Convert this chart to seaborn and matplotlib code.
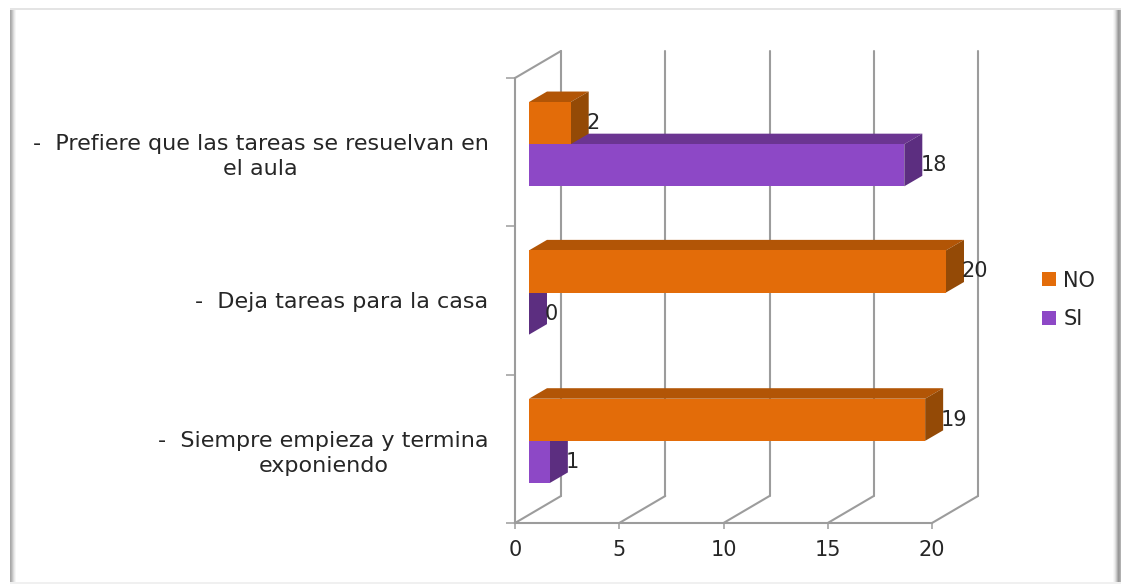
"""Horizontal pseudo-3D bars: NO / SI answers per statement."""

import matplotlib.pyplot as plt
import pandas as pd
import seaborn as sns
from matplotlib.patches import ConnectionPatch, Polygon, Rectangle
from matplotlib.transforms import IdentityTransform

categories = [
    "-  Prefiere que las tareas se resuelvan en\nel aula",
    "-  Deja tareas para la casa",
    "-  Siempre empieza y termina\nexponiendo",
]
no_values = [2, 20, 19]
si_values = [18, 0, 1]
series_names = ["NO", "SI"]
x_ticks = [0, 5, 10, 15, 20]

W, H = 1121, 584
FRONT = {"NO": "#E36C09", "SI": "#8D48C6"}
TOP = {"NO": "#B25506", "SI": "#6B3591"}
SIDE = {"NO": "#944A06", "SI": "#5C2E80"}
GRID = "#9C9C9C"
TEXT = "#262626"
FS_CAT = 16
FS = 15
DEPTH_X, DEPTH_Y = 18, 10.5

sns.set_theme(style="white")
plt.rcParams["font.family"] = ["DejaVu Sans"]


def axes_px(fig, left, top, right, bottom, zorder):
    ax = fig.add_axes(
        [left / W, 1 - bottom / H, (right - left) / W, (bottom - top) / H],
        zorder=zorder,
    )
    ax.patch.set_visible(False)
    for spine in ax.spines.values():
        spine.set_visible(False)
    ax.set_xlim(0, 20)
    ax.set_ylim(2.5, -0.5)
    return ax


def draw_frame(fig):
    # soft shadow round the pasted picture
    left_greys = ["#A8A8A8", "#B4B4B4", "#C6C6C6", "#DADADA", "#EAEAEA", "#F6F6F6"]
    right_greys = ["#F8F8F8", "#EEEEEE", "#DEDEDE", "#C8C8C8", "#AEAEAE", "#989898", "#A0A0A0", "#B0B0B0"]
    px = fig.transFigure
    for i, grey in enumerate(left_greys):
        fig.add_artist(Rectangle(((10 + i) / W, 0), 1 / W, 1 - 9 / H, color=grey, lw=0, transform=px))
    for i, grey in enumerate(right_greys):
        fig.add_artist(Rectangle(((1113 + i) / W, 0), 1 / W, 1 - 9 / H, color=grey, lw=0, transform=px))
    fig.add_artist(Rectangle((10 / W, 1 - 10 / H), 1111 / W, 2 / H, color="#E4E4E4", lw=0, transform=px))
    fig.add_artist(Rectangle((10 / W, 0), 1111 / W, 2 / H, color="#F0F0F0", lw=0, transform=px))


def join_planes(fig, front, back, xy):
    fig.add_artist(ConnectionPatch(xy, xy, "data", "data", axesA=front, axesB=back, color=GRID, lw=1.5, zorder=0.5))


def draw_walls(fig):
    back = axes_px(fig, 561, 51, 978, 496, 0)
    back.set_xticks(x_ticks)
    back.set_yticks([])
    back.tick_params(length=0, labelbottom=False)
    back.grid(axis="x", color=GRID, lw=1.5, clip_on=False)

    front = axes_px(fig, 515, 78, 932, 523, 1)
    for side in ("left", "bottom"):
        front.spines[side].set_visible(True)
        front.spines[side].set_color(GRID)
        front.spines[side].set_linewidth(1.5)
    front.set_xticks(x_ticks)
    front.set_yticks(range(len(categories)))
    front.set_yticklabels(categories, fontsize=FS_CAT, color=TEXT, multialignment="center", linespacing=1.33)
    front.set_yticks([-0.5, 0.5, 1.5, 2.5], minor=True)
    front.tick_params(axis="y", which="major", length=0, pad=19)
    front.tick_params(axis="y", which="minor", length=6.5, width=1.1, color=GRID, left=True)
    front.tick_params(axis="x", length=4.5, width=1.1, color=GRID, labelsize=FS, labelcolor=TEXT, pad=8, bottom=True)

    # floor lines and the top edge of the side wall join the two planes
    for tick in x_ticks:
        join_planes(fig, front, back, (tick, 2.5))
    join_planes(fig, front, back, (0, -0.5))


def draw_bars(fig, df):
    ax = axes_px(fig, 529, 70, 946, 515, 2)
    sns.barplot(
        data=df, y="category", x="value", hue="series", order=categories,
        hue_order=series_names, palette=FRONT, width=0.568, gap=0, dodge=True, ax=ax,
        saturation=1, errorbar=None, linewidth=0,
    )
    ax.set_xlim(0, 20)
    ax.set_ylim(2.5, -0.5)
    ax.set_xlabel("")
    ax.set_ylabel("")
    ax.set_xticks([])
    ax.set_yticks([])
    handles, labels = ax.get_legend_handles_labels()
    ax.get_legend().remove()

    fig.canvas.draw()
    # SI faces go behind the NO bars
    for name, container, z in zip(series_names, ax.containers, (2, 1)):
        for bar in container:
            bar.set_zorder(3)
            (x0, y0), (x1, y1) = ax.transData.transform(bar.get_bbox().get_points())
            y_top, y_low = max(y0, y1), min(y0, y1)
            top = [(x0, y_top), (x0 + DEPTH_X, y_top + DEPTH_Y), (x1 + DEPTH_X, y_top + DEPTH_Y), (x1, y_top)]
            side = [(x1, y_top), (x1 + DEPTH_X, y_top + DEPTH_Y), (x1 + DEPTH_X, y_low + DEPTH_Y), (x1, y_low)]
            ax.add_patch(Polygon(top, color=TOP[name], lw=0, zorder=z, transform=IdentityTransform(), clip_on=False))
            ax.add_patch(Polygon(side, color=SIDE[name], lw=0, zorder=z, transform=IdentityTransform(), clip_on=False))
        ax.bar_label(container, padding=11.5, fontsize=FS, color=TEXT, zorder=5, clip_on=False)

    fig.legend(
        handles, labels, loc="center left", bbox_to_anchor=(1023 / W, 1 - 300 / H), frameon=False,
        fontsize=FS, labelcolor=TEXT, handlelength=0.67, handleheight=0.67, handletextpad=0.36, labelspacing=0.9,
    )


def main():
    df = pd.DataFrame({
        "category": categories * 2,
        "series": [series_names[0]] * len(no_values) + [series_names[1]] * len(si_values),
        "value": no_values + si_values,
    })
    fig = plt.figure(figsize=(W / 100, H / 100), dpi=100, facecolor="white")
    draw_frame(fig)
    draw_walls(fig)
    draw_bars(fig, df)
    fig.savefig("out.png", dpi=100)
    plt.close(fig)


if __name__ == "__main__":
    main()
